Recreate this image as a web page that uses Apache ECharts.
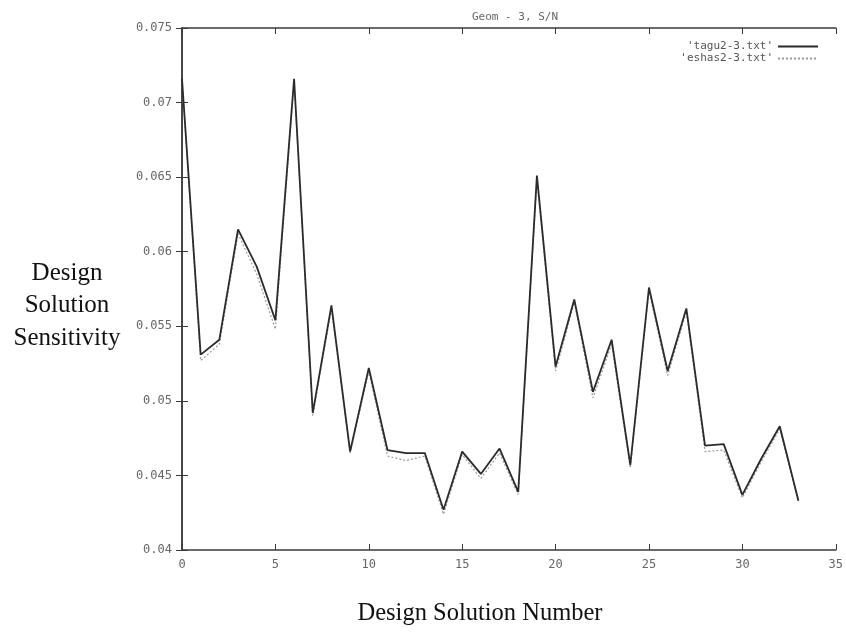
<!DOCTYPE html>
<html>
<head>
<meta charset="utf-8">
<script src="https://cdn.jsdelivr.net/npm/echarts@6/dist/echarts.min.js"></script>
<style>
  html, body { margin: 0; padding: 0; background: #fff; }
  #chart { width: 846px; height: 634px; }
</style>
</head>
<body>
<div id="chart"></div>
<script>
// Design solution index along the x axis
const solutionIndex = [0,1,2,3,4,5,6,7,8,9,10,11,12,13,14,15,16,17,18,19,20,21,22,23,24,25,26,27,28,29,30,31,32,33];

// Sensitivity per design solution, one array per data file
const taguValues = [0.0716, 0.0531, 0.0541, 0.0615, 0.0590, 0.0554, 0.0716, 0.0492, 0.0564, 0.0466,
                    0.0522, 0.0467, 0.0465, 0.0465, 0.0427, 0.0466, 0.0451, 0.0468, 0.0439, 0.0651,
                    0.0523, 0.0568, 0.0506, 0.0541, 0.0457, 0.0576, 0.0520, 0.0562, 0.0470, 0.0471,
                    0.0437, 0.0461, 0.0483, 0.0433];
const eshasValues = [0.0714, 0.0527, 0.0538, 0.0612, 0.0585, 0.0548, 0.0714, 0.0490, 0.0562, 0.0465,
                     0.0520, 0.0463, 0.0460, 0.0463, 0.0424, 0.0464, 0.0448, 0.0465, 0.0437, 0.0648,
                     0.0520, 0.0566, 0.0502, 0.0538, 0.0455, 0.0574, 0.0517, 0.0560, 0.0466, 0.0467,
                     0.0435, 0.0459, 0.0481, 0.0432];

const seriesNames = ["'tagu2-3.txt'", "'eshas2-3.txt'"];
const chartTitle = 'Geom - 3, S/N';
const xAxisTitle = 'Design Solution Number';
const yAxisTitleLines = ['Design', 'Solution', 'Sensitivity'];

// Axis ranges and tick steps
const xMin = 0, xMax = 35, xStep = 5;
const yMin = 0.04, yMax = 0.075, yStep = 0.005;

const pairs = (xs, ys) => xs.map((x, i) => [x, ys[i]]);

const monoFont = 'DejaVu Sans Mono';
const serifFont = 'Liberation Serif';
const frameColor = '#3a3a3a';

const tickStyle = { show: true, inside: true, length: 6, lineStyle: { color: frameColor, width: 1 } };
const frameLine = { show: true, lineStyle: { color: frameColor, width: 1.5 } };

const chart = echarts.init(document.getElementById('chart'), null, { renderer: 'canvas' });

chart.setOption({
  backgroundColor: '#ffffff',
  animation: false,
  title: {
    text: chartTitle,
    left: 510,
    textAlign: 'center',
    top: 7,
    textStyle: { fontFamily: monoFont, fontSize: 11, fontWeight: 'normal', color: '#666' }
  },
  legend: {
    orient: 'vertical',
    right: 22,
    top: 36,
    align: 'right',
    itemWidth: 40,
    itemHeight: 8,
    itemGap: 1,
    itemStyle: { opacity: 0, borderWidth: 0 },
    textStyle: { fontFamily: monoFont, fontSize: 11, color: '#555' },
    data: seriesNames
  },
  grid: { left: 182, right: 8, top: 28, bottom: 84, containLabel: false },
  xAxis: [
    {
      type: 'value', min: xMin, max: xMax, interval: xStep, position: 'bottom',
      axisLine: frameLine, axisTick: tickStyle, splitLine: { show: false },
      axisLabel: { fontFamily: monoFont, fontSize: 12, color: '#666', margin: 9 }
    },
    {
      type: 'value', min: xMin, max: xMax, interval: xStep, position: 'top',
      axisLine: frameLine, axisTick: tickStyle, splitLine: { show: false },
      axisLabel: { show: false }
    }
  ],
  yAxis: [
    {
      type: 'value', min: yMin, max: yMax, interval: yStep, position: 'left',
      axisLine: frameLine, axisTick: tickStyle, splitLine: { show: false },
      axisLabel: {
        fontFamily: monoFont, fontSize: 12, color: '#666', margin: 10,
        formatter: v => String(parseFloat(v.toFixed(3)))
      }
    },
    {
      type: 'value', min: yMin, max: yMax, interval: yStep, position: 'right',
      axisLine: frameLine, axisTick: tickStyle, splitLine: { show: false },
      axisLabel: { show: false }
    }
  ],
  series: [
    {
      name: seriesNames[0],
      type: 'line',
      data: pairs(solutionIndex, taguValues),
      symbol: 'none',
      z: 3,
      lineStyle: { color: '#2b2b2b', width: 1.8, type: 'solid' },
      itemStyle: { color: '#2b2b2b' }
    },
    {
      name: seriesNames[1],
      type: 'line',
      data: pairs(solutionIndex, eshasValues),
      symbol: 'none',
      z: 2,
      lineStyle: { color: '#9a9a9a', width: 1.2, type: [2, 2] },
      itemStyle: { color: '#9a9a9a' }
    }
  ],
  graphic: [
    {
      type: 'text', x: 480, y: 614,
      style: {
        text: xAxisTitle, font: '24.5px "' + serifFont + '"', fill: '#111',
        align: 'center', verticalAlign: 'middle'
      }
    },
    ...yAxisTitleLines.map((line, i) => ({
      type: 'text',
      x: 67, y: 273 + i * 32.5,
      style: {
        text: line, font: '25px "' + serifFont + '"', fill: '#111',
        align: 'center', verticalAlign: 'middle'
      }
    }))
  ]
});
</script>
</body>
</html>
